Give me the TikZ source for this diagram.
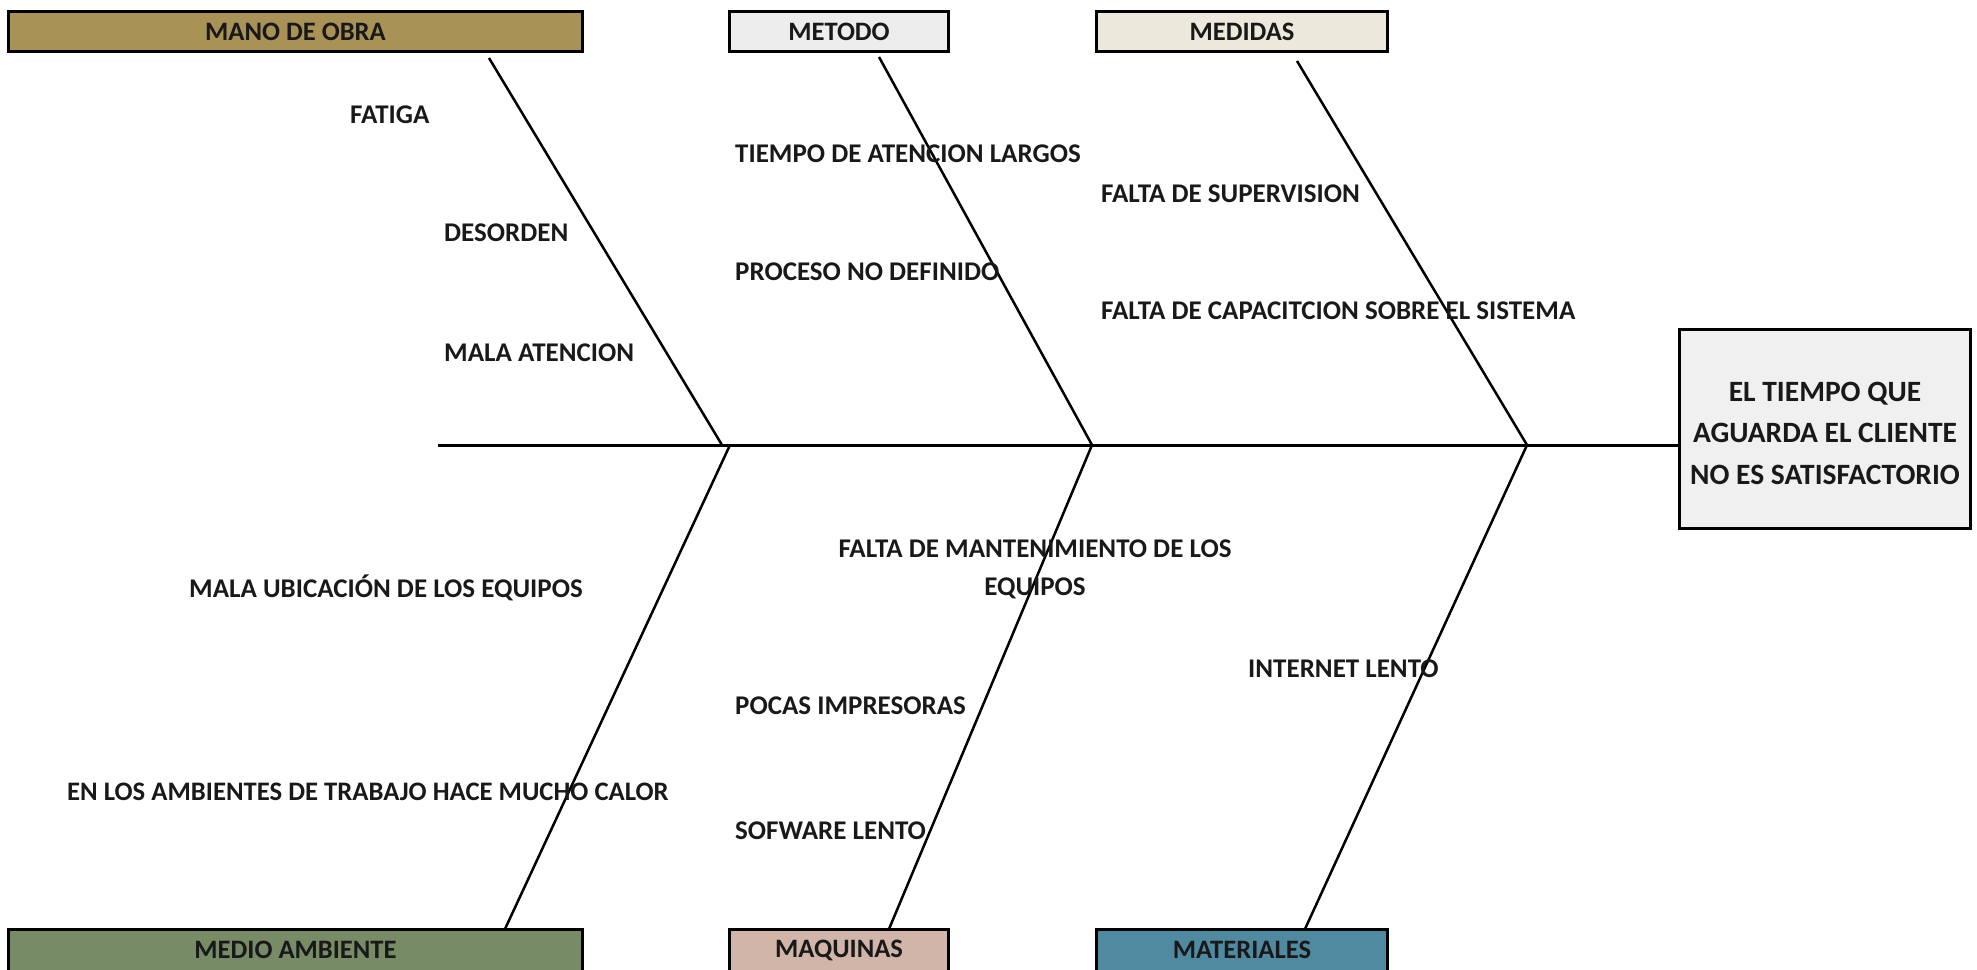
\documentclass[tikz,border=0pt]{standalone}
\usepackage{fontspec}
\setmainfont{Carlito}
\definecolor{manoc}{RGB}{168,146,85}
\definecolor{metodoc}{RGB}{237,237,237}
\definecolor{medidasc}{RGB}{237,232,220}
\definecolor{medioc}{RGB}{119,139,103}
\definecolor{maquinasc}{RGB}{208,181,168}
\definecolor{materialesc}{RGB}{80,138,160}
\definecolor{effectc}{RGB}{240,240,240}
\definecolor{ink}{RGB}{25,25,25}
\begin{document}
\begin{tikzpicture}[x=1pt,y=-1pt,
  catbox/.style={draw=black, line width=3pt, inner sep=0pt, text=ink,
    font=\fontsize{26.6}{30}\selectfont\bfseries},
  cattext/.style={inner sep=0pt, text=ink,
    font=\fontsize{26.6}{30}\selectfont\bfseries},
  cause/.style={anchor=west, inner sep=0pt, text=ink,
    font=\fontsize{27}{30}\selectfont\bfseries},
  bone/.style={line width=2.5pt, draw=black},
  spine/.style={line width=3pt, draw=black}]
\useasboundingbox (0,0) rectangle (1977,969);
\clip (0,0) rectangle (1977,969);

% category boxes, top row
\node[catbox, fill=manoc, minimum width=574pt, minimum height=40pt] (mano) at (295.5,31.5) {MANO DE OBRA};
\node[catbox, fill=metodoc, minimum width=219pt, minimum height=40pt] (metodo) at (839,31.5) {METODO};
\node[catbox, fill=medidasc, minimum width=291pt, minimum height=40pt] (medidas) at (1242,31.5) {MEDIDAS};

% category boxes, bottom row (cut by the lower edge)
\node[catbox, fill=medioc, minimum width=574pt, minimum height=46pt] (medio) at (295.5,952.5) {};
\node[catbox, fill=maquinasc, minimum width=219pt, minimum height=46pt] (maquinas) at (839,952.5) {};
\node[catbox, fill=materialesc, minimum width=291pt, minimum height=46pt] (materiales) at (1242,952.5) {};
\node[cattext] (medioT) at (295.5,950) {MEDIO AMBIENTE};
\node[cattext] (maquinasT) at (839,950) {MAQUINAS};
\node[cattext] (materialesT) at (1242,950) {MATERIALES};

% effect box
\node[draw=black, line width=3pt, fill=effectc, minimum width=291pt, minimum height=199pt,
  inner sep=0pt, text=ink] (effect) at (1825,429) {};
\node[inner sep=0pt, align=center, text=ink, font=\fontsize{29.5}{41.5}\selectfont\bfseries]
  (effectT) at (1825,433) {EL TIEMPO QUE\\AGUARDA EL CLIENTE\\NO ES SATISFACTORIO};

% bone end points and junctions on the spine
\coordinate (tail) at (438,445);
\coordinate (j1) at (722,445);
\coordinate (j1b) at (730,445);
\coordinate (j2) at (1092,445);
\coordinate (j3) at (1527,445);
\coordinate (t1) at (489,58);
\coordinate (t2) at (879,57);
\coordinate (t3) at (1297,61);
\coordinate (b1) at (505,929);
\coordinate (b2) at (889,929);
\coordinate (b3) at (1305,929);

% spine and bones
\draw[spine] (tail) -- (tail -| effect.west);
\draw[bone] (t1) -- (j1);
\draw[bone] (t2) -- (j2);
\draw[bone] (t3) -- (j3);
\draw[bone] (j1b) -- (b1);
\draw[bone] (j2) -- (b2);
\draw[bone] (j3) -- (b3);

% causes
\node[cause] (c1) at (350,115) {FATIGA};
\node[cause] (c2) at (444,233) {DESORDEN};
\node[cause] (c3) at (444,353) {MALA ATENCION};
\node[cause] (c4) at (735,154) {TIEMPO DE ATENCION LARGOS};
\node[cause] (c5) at (735,272) {PROCESO NO DEFINIDO};
\node[cause] (c6) at (1101,194) {FALTA DE SUPERVISION};
\node[cause] (c7) at (1101,311) {FALTA DE CAPACITCION SOBRE EL SISTEMA};
\node[cause] (c8) at (189,588) {MALA UBICACIÓN DE LOS EQUIPOS};
\node[cause, font=\fontsize{26.7}{30}\selectfont\bfseries] (c9) at (67,792) {EN LOS AMBIENTES DE TRABAJO HACE MUCHO CALOR};
\node[inner sep=0pt, align=center, text=ink, font=\fontsize{27}{38}\selectfont\bfseries]
  (c10) at (1035,569) {FALTA DE MANTENIMIENTO DE LOS\\EQUIPOS};
\node[cause] (c11) at (735,706) {POCAS IMPRESORAS};
\node[cause] (c12) at (735,831) {SOFWARE LENTO};
\node[cause] (c13) at (1248,669) {INTERNET LENTO};
\end{tikzpicture}
\end{document}
